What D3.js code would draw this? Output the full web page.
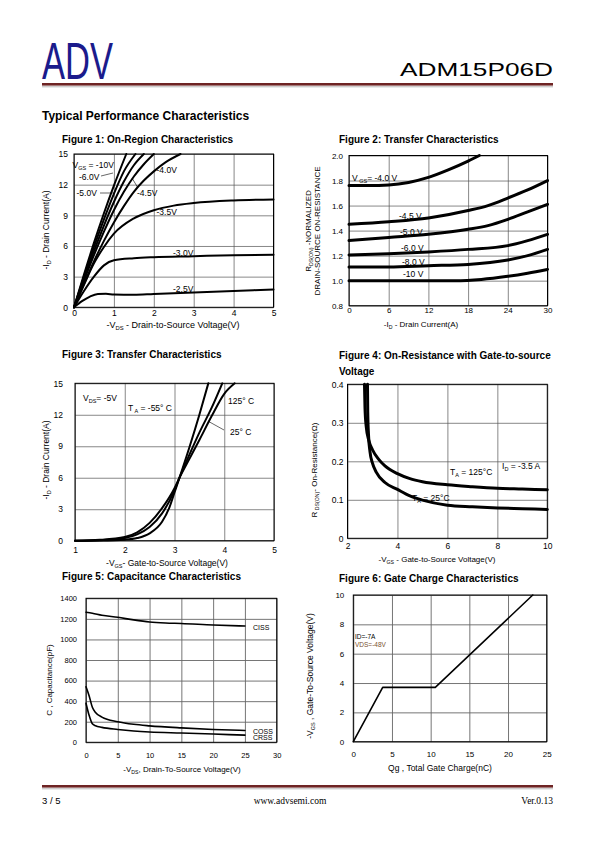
<!DOCTYPE html>
<html><head><meta charset="utf-8">
<script src="https://cdn.jsdelivr.net/npm/d3@7"></script>
<style>body{margin:0;background:#fff}svg{display:block}</style>
</head><body><svg id="page" width="595" height="842"></svg>
<script>
const FONT = '"Liberation Sans", Arial, sans-serif';
const SERIF = '"Liberation Serif", "Times New Roman", serif';

// ---------------- DATA ----------------
// Figure 1: On-Region Characteristics (-VDS [V], -ID [A])
const fig1XTicks = [0, 1, 2, 3, 4, 5];
const fig1YTicks = [0, 3, 6, 9, 12, 15];
const fig1Vgs10  = [[0,0],[0.25,3.2],[0.5,6.3],[0.75,9.2],[1.0,11.9],[1.31,15]];
const fig1Vgs6   = [[0,0],[0.25,3.0],[0.5,5.9],[0.75,8.6],[1.0,11.1],[1.25,13.3],[1.54,15]];
const fig1Vgs5   = [[0,0],[0.25,2.8],[0.5,5.5],[0.75,8.0],[1.0,10.3],[1.25,12.3],[1.5,13.9],[1.75,15]];
const fig1Vgs45  = [[0,0],[0.25,2.6],[0.5,5.1],[0.75,7.4],[1.0,9.5],[1.25,11.3],[1.5,12.8],[1.75,14.0],[2.0,15]];
const fig1Vgs4   = [[0,0],[0.25,2.3],[0.5,4.5],[0.75,6.5],[1.0,8.3],[1.25,9.9],[1.5,11.3],[1.75,12.4],[2.0,13.3],[2.3,14.2],[2.67,15]];
const fig1Vgs35  = [[0,0],[0.25,2.2],[0.5,4.3],[0.75,5.9],[1.0,7.2],[1.5,8.7],[2.0,9.5],[2.5,9.95],[3.0,10.2],[4.0,10.45],[5.0,10.55]];
const fig1Vgs3   = [[0,0],[0.25,1.6],[0.5,3.0],[0.75,4.1],[1.0,4.6],[1.5,4.8],[2.0,4.9],[3.0,5.0],[4.0,5.1],[5.0,5.15]];
const fig1Vgs25  = [[0,0],[0.2,0.6],[0.4,1.05],[0.6,1.3],[0.8,1.32],[1.0,1.25],[1.5,1.22],[2.0,1.3],[3.0,1.45],[4.0,1.6],[5.0,1.75]];

// Figure 2: normalized RDS(on) vs -ID
const fig2XTicks = [0, 6, 12, 18, 24, 30];
const fig2YTicks = [0.8, 1.0, 1.2, 1.4, 1.6, 1.8, 2.0];
const fig2Vgs4   = [[0,1.76],[3,1.76],[6,1.765],[9,1.785],[12,1.825],[15,1.885],[18,1.955],[19.7,2.0]];
const fig2Vgs45  = [[0,1.45],[6,1.47],[12,1.5],[18,1.56],[21,1.6],[24,1.66],[27,1.725],[30,1.8]];
const fig2Vgs5   = [[0,1.32],[6,1.345],[12,1.37],[18,1.41],[21,1.44],[24,1.49],[27,1.55],[30,1.61]];
const fig2Vgs6   = [[0,1.205],[6,1.215],[12,1.23],[18,1.25],[24,1.28],[27,1.32],[30,1.37]];
const fig2Vgs8   = [[0,1.11],[6,1.11],[12,1.12],[18,1.13],[24,1.165],[27,1.2],[30,1.25]];
const fig2Vgs10  = [[0,1.0],[6,1.0],[12,1.0],[16,1.0],[20,1.01],[24,1.035],[27,1.06],[30,1.09]];

// Figure 3: Transfer characteristics (-VGS [V], -ID [A])
const fig3XTicks = [1, 2, 3, 4, 5];
const fig3YTicks = [0, 3, 6, 9, 12, 15];
const fig3Tm55   = [[1,0],[1.5,0.02],[2,0.1],[2.25,0.25],[2.5,0.7],[2.75,1.8],[2.9,3.2],[3.0,4.6],[3.1,6.0],[3.3,8.9],[3.5,12.0],[3.68,15]];
const fig3T25    = [[1,0],[1.5,0.05],[2,0.25],[2.25,0.6],[2.5,1.3],[2.75,2.6],[3.0,4.8],[3.1,6.0],[3.3,8.2],[3.5,10.3],[3.75,12.7],[3.96,15]];
const fig3T125   = [[1,0],[1.5,0.08],[2,0.35],[2.25,0.8],[2.5,1.7],[2.75,3.1],[3.0,5.0],[3.1,6.0],[3.3,7.8],[3.5,9.6],[3.75,11.9],[4.0,14.0],[4.21,15]];

// Figure 4: RDS(on) vs -VGS
const fig4XTicks = [2, 4, 6, 8, 10];
const fig4YTicks = [0, 0.1, 0.2, 0.3, 0.4];
const fig4T125   = [[2.68,0.4],[2.7,0.34],[2.75,0.29],[2.85,0.255],[3.0,0.23],[3.25,0.205],[3.5,0.188],[4.0,0.168],[4.5,0.155],[5.0,0.147],[6.0,0.139],[7.0,0.134],[8.0,0.13],[9.0,0.128],[10.0,0.126]];
const fig4T25    = [[2.8,0.4],[2.81,0.33],[2.84,0.27],[2.9,0.225],[3.0,0.195],[3.15,0.172],[3.5,0.145],[4.0,0.127],[4.5,0.11],[5.0,0.099],[6.0,0.086],[7.0,0.082],[8.0,0.079],[9.0,0.077],[10.0,0.075]];

// Figure 5: Capacitance (-VDS [V], C [pF])
const fig5XTicks = [0, 5, 10, 15, 20, 25, 30];
const fig5YTicks = [0, 200, 400, 600, 800, 1000, 1200, 1400];
const fig5Ciss   = [[0,1265],[1,1255],[2.5,1235],[5,1215],[7.5,1190],[10,1170],[12.5,1160],[15,1155],[20,1140],[25,1130]];
const fig5Coss   = [[0,540],[0.5,450],[1,340],[1.5,290],[2.5,245],[5,200],[7.5,175],[10,160],[15,140],[20,125],[25,115]];
const fig5Crss   = [[0,380],[0.5,260],[1,180],[1.5,160],[2.5,145],[5,125],[7.5,110],[10,100],[15,90],[20,80],[25,70]];

// Figure 6: Gate charge (Qg [nC], -VGS [V])
const fig6XTicks = [0, 5, 10, 15, 20, 25];
const fig6YTicks = [0, 2, 4, 6, 8, 10];
const fig6Vgs    = [[0,0],[3.8,3.7],[10.6,3.7],[23.2,10]];

// ---------------- DRAWING ----------------
const svg = d3.select('#page');

function txt(parent, x, y, parts, o = {}) {
  const t = parent.append('text').attr('x', x).attr('y', y)
    .attr('font-family', o.family || FONT).attr('font-size', o.size || 8.5)
    .attr('font-weight', o.weight || 'normal').attr('fill', o.fill || '#000')
    .attr('text-anchor', o.anchor || 'start');
  if (o.rotate) t.attr('transform', `rotate(-90,${x},${y})`);
  if (typeof parts === 'string') parts = [[parts]];
  parts.forEach((p, i) => {
    const s = t.append('tspan').text(p[0]);
    if (p[1]) s.attr('font-size', (o.size || 8.5) * 0.65).attr('dy', 2);
    else if (i > 0 && parts[i - 1][1]) s.attr('dy', -2);
  });
  return t;
}

function panel(o) {
  const x = d3.scaleLinear().domain(o.xd).range(o.xr);
  const y = d3.scaleLinear().domain(o.yd).range(o.yr);
  const g = svg.append('g');
  const h = o.yr[0] - o.yr[1], w = o.xr[1] - o.xr[0];
  const gx = g.append('g').attr('transform', `translate(0,${o.yr[0]})`)
    .call(d3.axisBottom(x).tickValues(o.xt).tickSize(-h).tickPadding(o.xpad).tickFormat(o.xfmt || (d => d)));
  const gy = g.append('g').attr('transform', `translate(${o.xr[0]},0)`)
    .call(d3.axisLeft(y).tickValues(o.yt).tickSize(-w).tickPadding(o.ypad).tickFormat(o.yfmt || (d => d)));
  [gx, gy].forEach(a => {
    a.select('.domain').remove();
    a.selectAll('line').attr('stroke', o.grid).attr('stroke-width', o.gw);
    a.selectAll('text').attr('font-size', o.fs).attr('fill', '#000').attr('font-family', FONT);
  });
  g.append('rect').attr('x', o.xr[0]).attr('y', o.yr[1]).attr('width', w).attr('height', h)
    .attr('fill', 'none').attr('stroke', '#000').attr('stroke-width', o.bw || 1);
  const line = d3.line().x(d => x(d[0])).y(d => y(d[1])).curve(o.curve || d3.curveMonotoneX);
  o.series.forEach(s => g.append('path').attr('d', line(s)).attr('fill', 'none')
    .attr('stroke', '#000').attr('stroke-width', o.lw).attr('stroke-linejoin', 'round').attr('stroke-linecap', 'round'));
  return g;
}

// ----- Header -----
svg.append('text').attr('x', 42).attr('y', 79).attr('font-family', FONT).attr('font-size', 51)
  .attr('fill', '#1b1b8c').attr('textLength', 71).attr('lengthAdjust', 'spacingAndGlyphs').text('ADV');
svg.append('text').attr('x', 400).attr('y', 76).attr('font-family', FONT).attr('font-size', 18)
  .attr('fill', '#000').attr('textLength', 153).attr('lengthAdjust', 'spacingAndGlyphs').text('ADM15P06D');
svg.append('rect').attr('x', 42).attr('y', 83).attr('width', 511).attr('height', 2.6).attr('fill', '#6e2424');
svg.append('line').attr('x1', 42).attr('x2', 553).attr('y1', 86.8).attr('y2', 86.8).attr('stroke', '#999').attr('stroke-width', 0.7);

txt(svg, 42, 120, 'Typical Performance Characteristics', { size: 12, weight: 'bold' });

// ----- Figure 1 -----
txt(svg, 62, 142.5, 'Figure 1: On-Region Characteristics', { size: 10, weight: 'bold' });
panel({ xd: [0, 5], yd: [0, 15], xr: [74, 273.5], yr: [307.3, 154], xt: fig1XTicks, yt: fig1YTicks,
  xpad: 3, ypad: 6, fs: 8.5, grid: '#555', gw: 0.7, lw: 2,
  series: [fig1Vgs10, fig1Vgs6, fig1Vgs5, fig1Vgs45, fig1Vgs4, fig1Vgs35, fig1Vgs3, fig1Vgs25] });
txt(svg, 72.5, 168, [['V'], ['GS', 1], [' = -10V']], { size: 8.5 });
txt(svg, 79, 179.5, '-6.0V', { size: 8.5 });
txt(svg, 76.5, 196, '-5.0V', { size: 8.5 });
txt(svg, 156.5, 173, '-4.0V', { size: 8.5 });
txt(svg, 137, 196, '-4.5V', { size: 8.5 });
txt(svg, 156.5, 214.5, '-3.5V', { size: 8.5 });
txt(svg, 173, 255.5, '-3.0V', { size: 8.5 });
txt(svg, 173, 292, '-2.5V', { size: 8.5 });
[[101, 176, 113, 173], [100, 193, 114, 193], [138, 188, 132, 178]].forEach(l =>
  svg.append('line').attr('x1', l[0]).attr('y1', l[1]).attr('x2', l[2]).attr('y2', l[3]).attr('stroke', '#000').attr('stroke-width', 0.6));
txt(svg, 173, 327.5, [['-V'], ['DS', 1], [' - Drain-to-Source Voltage(V)']], { size: 9, anchor: 'middle' });
txt(svg, 49, 230, [['-I'], ['D', 1], [' - Drain Current(A)']], { size: 8.5, anchor: 'middle', rotate: true });

// ----- Figure 2 -----
txt(svg, 339, 142.5, 'Figure 2: Transfer Characteristics', { size: 10, weight: 'bold' });
panel({ xd: [0, 30], yd: [0.8, 2.0], xr: [349, 547.5], yr: [305.7, 155.5], xt: fig2XTicks, yt: fig2YTicks,
  xpad: 2, ypad: 6, fs: 8, grid: '#555', gw: 0.7, lw: 3, yfmt: d3.format('.1f'),
  series: [fig2Vgs4, fig2Vgs45, fig2Vgs5, fig2Vgs6, fig2Vgs8, fig2Vgs10] });
txt(svg, 352, 181, [['V'], [' GS', 1], ['= -4.0 V']], { size: 8.5 });
txt(svg, 399, 218.5, '-4.5 V', { size: 8.5 });
txt(svg, 400, 235.3, '-5.0 V', { size: 8.5 });
txt(svg, 401, 251.3, '-6.0 V', { size: 8.5 });
txt(svg, 402, 264.7, '-8.0 V', { size: 8.5 });
txt(svg, 403, 276.5, '-10 V', { size: 8.5 });
txt(svg, 421, 327, [['-I'], ['D', 1], [' - Drain Current(A)']], { size: 8, anchor: 'middle' });
txt(svg, 311, 231, [['R'], ['DS(ON)', 1], [' -NORMALIZED']], { size: 8, anchor: 'middle', rotate: true });
txt(svg, 320, 231, 'DRAIN-SOURCE ON-RESISTANCE', { size: 8, anchor: 'middle', rotate: true });

// ----- Figure 3 -----
txt(svg, 62, 357.5, 'Figure 3: Transfer Characteristics', { size: 10, weight: 'bold' });
panel({ xd: [1, 5], yd: [0, 15], xr: [75, 274], yr: [540.7, 383.3], xt: fig3XTicks, yt: fig3YTicks,
  xpad: 6, ypad: 12, fs: 8.5, grid: '#555', gw: 0.7, lw: 2,
  series: [fig3Tm55, fig3T25, fig3T125] });
txt(svg, 83, 401, [['V'], ['DS', 1], ['= -5V']], { size: 8.5 });
txt(svg, 128, 411, [['T'], [' A', 1], [' = -55° C']], { size: 8.5 });
txt(svg, 228, 404, '125°  C', { size: 8.5 });
txt(svg, 230, 435, '25°  C', { size: 8.5 });
svg.append('line').attr('x1', 209).attr('y1', 421.7).attr('x2', 224).attr('y2', 430).attr('stroke', '#000').attr('stroke-width', 0.6);
txt(svg, 167, 566, [['-V'], ['GS', 1], ['- Gate-to-Source Voltage(V)']], { size: 8.5, anchor: 'middle' });
txt(svg, 49, 460, [['-I'], ['D', 1], [' - Drain Current(A)']], { size: 8.5, anchor: 'middle', rotate: true });

// ----- Figure 4 -----
txt(svg, 339, 358.5, 'Figure 4: On-Resistance with Gate-to-source', { size: 10, weight: 'bold' });
txt(svg, 339, 374.5, 'Voltage', { size: 10, weight: 'bold' });
panel({ xd: [2, 10], yd: [0, 0.4], xr: [347.5, 547.3], yr: [538.3, 384.3], xt: fig4XTicks, yt: fig4YTicks,
  xpad: 5, ypad: 4, fs: 8.5, grid: '#555', gw: 0.7, lw: 3, yfmt: d => d === 0 ? '0' : d.toFixed(1),
  series: [fig4T125, fig4T25] });
txt(svg, 450, 475, [['T'], ['A', 1], [' = 125°C']], { size: 8.5 });
txt(svg, 502, 469, [['I'], ['D', 1], [' = -3.5 A']], { size: 8.5 });
txt(svg, 412, 501, [['T'], ['A', 1], [' = 25°C']], { size: 8.5 });
txt(svg, 437, 562, [['-V'], ['GS', 1], [' - Gate-to-Source Voltage(V)']], { size: 8, anchor: 'middle' });
txt(svg, 317, 470, [['R'], [' DS(ON)', 1], ['- On-Resistance(Ω)']], { size: 8, anchor: 'middle', rotate: true });

// ----- Figure 5 -----
txt(svg, 62, 579.5, 'Figure 5: Capacitance Characteristics', { size: 10, weight: 'bold' });
panel({ xd: [0, 30], yd: [0, 1400], xr: [86, 276.7], yr: [742.3, 598.3], xt: fig5XTicks, yt: fig5YTicks,
  xpad: 10, ypad: 9, fs: 7.5, grid: '#666', gw: 0.9, lw: 1.6,
  series: [fig5Ciss, fig5Coss, fig5Crss] });
txt(svg, 253, 629.5, 'CISS', { size: 7 });
txt(svg, 253, 733.5, 'COSS', { size: 7 });
txt(svg, 253, 740, 'CRSS', { size: 7 });
txt(svg, 182, 772, [['-V'], ['DS', 1], [', Drain-To-Source Voltage(V)']], { size: 8, anchor: 'middle' });
txt(svg, 52, 680, 'C , Capacitance(pF)', { size: 8, anchor: 'middle', rotate: true });

// ----- Figure 6 -----
txt(svg, 339, 581.5, 'Figure 6: Gate Charge Characteristics', { size: 10, weight: 'bold' });
panel({ xd: [0, 25], yd: [0, 10], xr: [353.3, 546.7], yr: [741.7, 595], xt: fig6XTicks, yt: fig6YTicks,
  xpad: 10, ypad: 9, fs: 8, grid: '#666', gw: 0.9, lw: 1.6, curve: d3.curveLinear,
  series: [fig6Vgs] });
txt(svg, 355, 638.5, 'ID=-7A', { size: 6.5 });
txt(svg, 355, 647, 'VDS=-48V', { size: 6.5, fill: '#7a5230' });
txt(svg, 440, 771, 'Qg , Total Gate Charge(nC)', { size: 8.5, anchor: 'middle' });
txt(svg, 313, 676, [['-V'], ['GS', 1], [' , Gate-To-Source Voltage(V)']], { size: 8.5, anchor: 'middle', rotate: true });

// ----- Footer -----
svg.append('rect').attr('x', 42).attr('y', 785).attr('width', 511).attr('height', 2.6).attr('fill', '#6e2424');
svg.append('line').attr('x1', 42).attr('x2', 553).attr('y1', 788.8).attr('y2', 788.8).attr('stroke', '#999').attr('stroke-width', 0.7);
txt(svg, 42, 804, '3 / 5', { size: 9.5 });
txt(svg, 290, 804, 'www.advsemi.com', { size: 9.5, anchor: 'middle', family: SERIF });
txt(svg, 553, 804, 'Ver.0.13', { size: 9.5, anchor: 'end', family: SERIF });
</script></body></html>
